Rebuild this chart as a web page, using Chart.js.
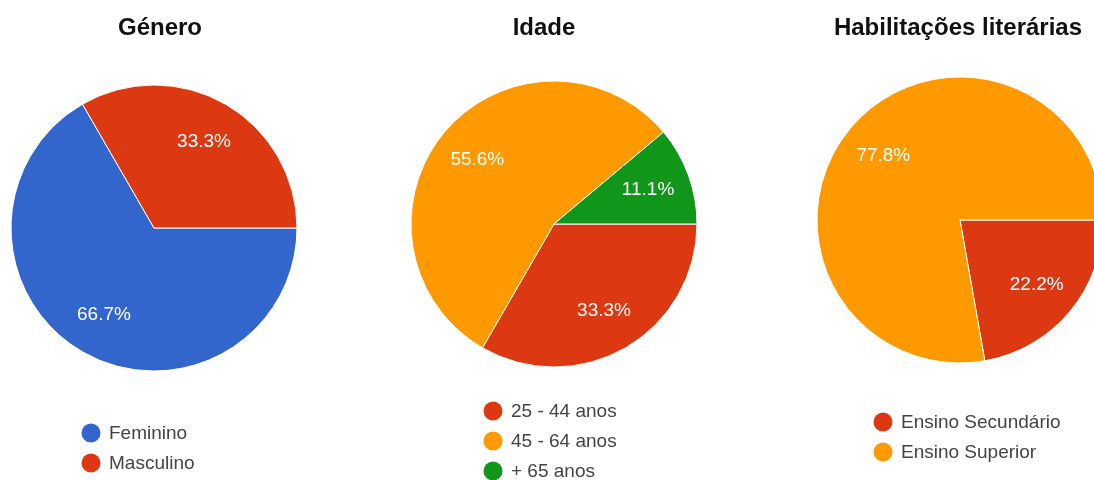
<!DOCTYPE html>
<html>
<head>
<meta charset="utf-8">
<script src="https://cdn.jsdelivr.net/npm/chart.js@4"></script>
<style>
  html, body { margin: 0; padding: 0; background: #fff; overflow: hidden; }
  #wrap { position: relative; width: 1094px; height: 480px; overflow: hidden; }
  canvas { position: absolute; top: 0; }
</style>
</head>
<body>
<div id="wrap">
  <canvas id="generoChart" width="364" height="480" style="left:0"></canvas>
  <canvas id="idadeChart" width="380" height="480" style="left:364px"></canvas>
  <canvas id="habChart" width="400" height="480" style="left:760px"></canvas>
</div>
<script>
// ===== Data (respostas, n = 9) =====
const generoLabels = ["Feminino", "Masculino"];
const generoValues = [6, 3];
const generoColors = ["#3366cc", "#dc3912"];

const idadeLabels = ["25 - 44 anos", "45 - 64 anos", "+ 65 anos"];
const idadeValues = [3, 5, 1];
const idadeColors = ["#dc3912", "#ff9900", "#109618"];

const habLabels = ["Ensino Secundário", "Ensino Superior"];
const habValues = [2, 7];
const habColors = ["#dc3912", "#ff9900"];

const FONT = '"Liberation Sans", Arial, sans-serif';

// titles, slice percentages and a vertical legend, drawn straight on the canvas
const pieDecor = {
  id: "pieDecor",
  afterDatasetsDraw(chart, args, opts) {
    const ctx = chart.ctx;
    const ds = chart.data.datasets[0];
    const total = ds.data.reduce((a, b) => a + b, 0);
    ctx.save();

    // percentages inside slices
    ctx.font = "19px " + FONT;
    ctx.fillStyle = "#fff";
    ctx.textAlign = "center";
    ctx.textBaseline = "middle";
    chart.getDatasetMeta(0).data.forEach((arc, i) => {
      const mid = (arc.startAngle + arc.endAngle) / 2;
      const r = arc.outerRadius * 0.7;
      const pct = (ds.data[i] / total * 100).toFixed(1) + "%";
      ctx.fillText(pct, arc.x + Math.cos(mid) * r, arc.y + Math.sin(mid) * r);
    });

    // title
    ctx.font = "bold 24px " + FONT;
    ctx.fillStyle = "#111";
    ctx.textBaseline = "alphabetic";
    ctx.fillText(opts.title, opts.titleX, 35);

    // legend
    ctx.font = "19px " + FONT;
    ctx.textAlign = "left";
    ctx.textBaseline = "middle";
    chart.data.labels.forEach((lbl, i) => {
      const y = opts.legendY + i * 30;
      ctx.fillStyle = ds.backgroundColor[i];
      ctx.beginPath();
      ctx.arc(opts.legendX, y, 9.5, 0, Math.PI * 2);
      ctx.fill();
      ctx.fillStyle = "#444";
      ctx.fillText(lbl, opts.legendX + 18, y + 1);
    });

    ctx.restore();
  }
};

function mkPie(id, labels, values, colors, padding, decor) {
  return new Chart(document.getElementById(id), {
    type: "pie",
    data: {
      labels,
      datasets: [{
        data: values,
        backgroundColor: colors,
        borderColor: "#fff",
        borderWidth: 1,
        hoverOffset: 0
      }]
    },
    options: {
      responsive: false,
      animation: false,
      rotation: 90,
      radius: 143,
      layout: { padding },
      events: [],
      plugins: {
        legend: { display: false },
        tooltip: { enabled: false },
        pieDecor: decor
      }
    },
    plugins: [pieDecor]
  });
}

mkPie("generoChart", generoLabels, generoValues, generoColors,
  { left: 11, right: 67, top: 85, bottom: 109 },
  { title: "Género", titleX: 160, legendX: 91, legendY: 433 });

mkPie("idadeChart", idadeLabels, idadeValues, idadeColors,
  { left: 47, right: 47, top: 81, bottom: 113 },
  { title: "Idade", titleX: 180, legendX: 129, legendY: 411 });

mkPie("habChart", habLabels, habValues, habColors,
  { left: 57, right: 57, top: 77, bottom: 117 },
  { title: "Habilitações literárias", titleX: 198, legendX: 123, legendY: 422 });
</script>
</body>
</html>
